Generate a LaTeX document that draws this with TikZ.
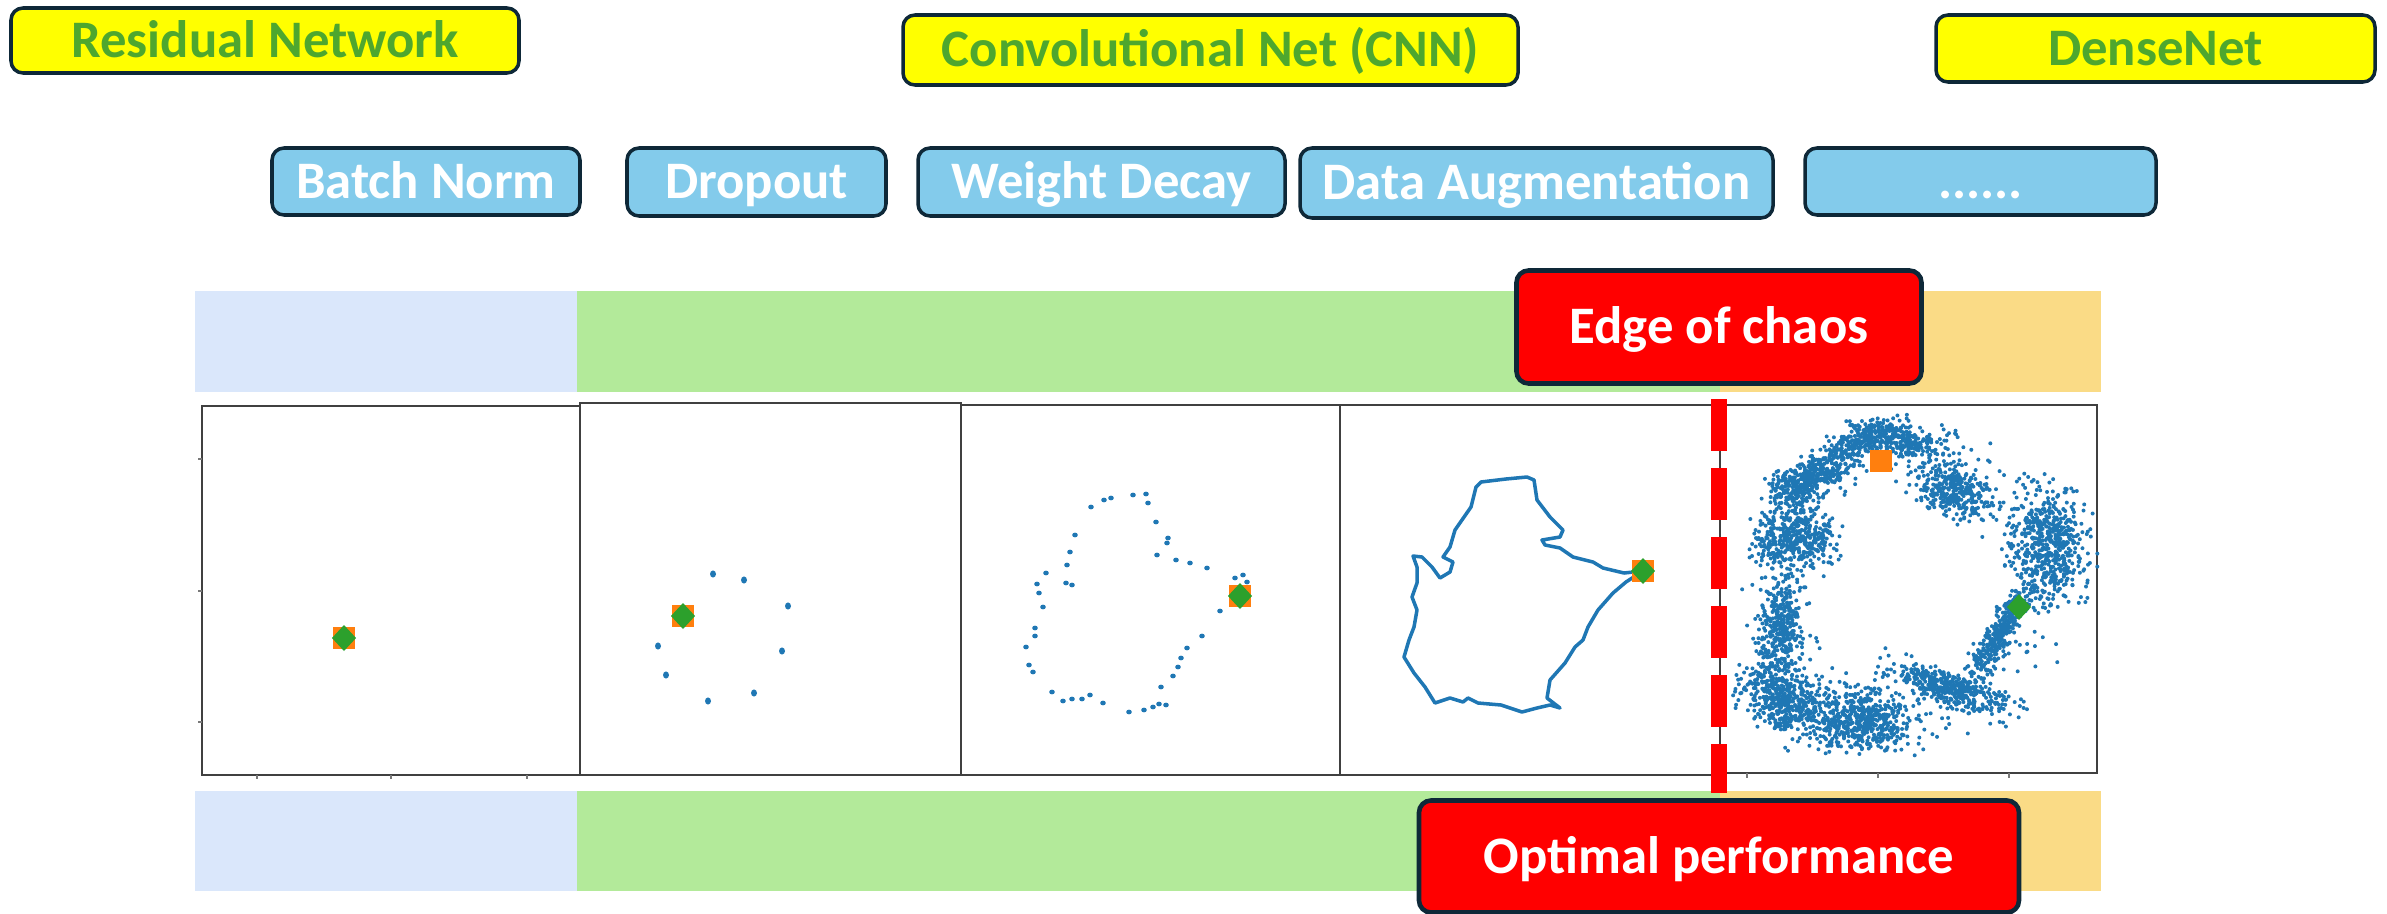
\documentclass[tikz,border=0pt]{standalone}
\usepackage{fontspec}
\setmainfont{Carlito}

\definecolor{archyellow}{RGB}{255,255,0}
\definecolor{archgreen}{RGB}{78,167,46}
\definecolor{regblue}{RGB}{131,203,235}
\definecolor{boxline}{RGB}{14,40,56}
\definecolor{bandblue}{RGB}{218,231,251}
\definecolor{bandgreen}{RGB}{179,234,154}
\definecolor{bandorange}{RGB}{250,219,134}
\definecolor{plotblue}{RGB}{31,119,180}
\definecolor{plotorange}{RGB}{255,127,14}
\definecolor{plotgreen}{RGB}{44,160,44}
\definecolor{framegray}{RGB}{64,64,64}

\tikzset{
  tag/.style = {draw = boxline, line width = 1pt, rounded corners = 1.2mm, inner sep = 0pt,
                text height = 9.6pt, text depth = 0pt,
                font = \fontsize{15}{18}\selectfont\bfseries},
  archtag/.style = {tag, fill = archyellow, text = archgreen},
  regtag/.style  = {tag, fill = regblue, text = white},
  cuttag/.style  = {tag, fill = red, text = white, line width = 1.3pt},
  panel/.style   = {draw = framegray, line width = 0.7pt},
  tick/.style    = {framegray!70, line width = 0.3pt},
  cutline/.style = {red, line width = 1.6mm, dash pattern = on 5.2mm off 1.7mm},
  dot/.style     = {fill = plotblue}
}

\begin{document}
\begin{tikzpicture}[x = 0.1mm, y = -0.1mm]
  \useasboundingbox (0, 0) rectangle (2387, 914);

  \node (resnet)   at ( 265,  40.5) [archtag, minimum width = 50.8mm, minimum height = 6.5mm] {Residual Network};
  \node (cnn)      at (1210.5, 50)  [archtag, minimum width = 61.5mm, minimum height = 7mm]   {Convolutional Net (CNN)};
  \node (densenet) at (2155.5, 48.5) [archtag, minimum width = 43.9mm, minimum height = 6.7mm] {DenseNet};

  \node (batchnorm) at ( 426,   181.5) [regtag, minimum width = 30.8mm, minimum height = 6.7mm] {Batch Norm};
  \node (dropout)   at ( 756.5, 182)   [regtag, minimum width = 25.9mm, minimum height = 6.8mm] {Dropout};
  \node (decay)     at (1101.5, 182)   [regtag, minimum width = 36.7mm, minimum height = 6.8mm] {Weight Decay};
  \node (augment)   at (1536.5, 183)   [regtag, minimum width = 47.3mm, minimum height = 7mm]   {Data Augmentation};
  \node (more)      at (1980.5, 181.5) [regtag, minimum width = 35.1mm, minimum height = 6.7mm] {......};

  \fill [bandblue]   ( 195, 291) rectangle ( 577, 392);
  \fill [bandgreen]  ( 577, 291) rectangle (1720, 392);
  \fill [bandorange] (1720, 291) rectangle (2101, 392);
  \fill [bandblue]   ( 195, 791) rectangle ( 577, 891);
  \fill [bandgreen]  ( 577, 791) rectangle (1720, 891);
  \fill [bandorange] (1720, 791) rectangle (2101, 891);

  \draw [panel] ( 202, 406) rectangle ( 580, 775);
  \draw [panel] ( 580, 403) rectangle ( 961, 775);
  \draw [panel] ( 961, 405) rectangle (1340, 775);
  \draw [panel] (1340, 405) rectangle (1720, 775);
  \draw [panel] (1720, 405) rectangle (2097, 773);
  \foreach \x in {257, 391, 527}
    \draw [tick] (\x, 775) -- (\x, 779);
  \foreach \y in {459, 591, 722}
    \draw [tick] (202, \y) -- (198, \y);
  \foreach \x in {1747, 1878, 2009}
    \draw [tick] (\x, 773) -- (\x, 778);

  \foreach \x/\y in {713/574, 744/580, 788/606, 782/651, 754/693, 708/701, 666/675, 658/646}
    \fill [dot] (\x, \y) ellipse [x radius = 3, y radius = 3.6];

  \foreach \x/\y in {1091/507, 1104/500, 1111/498, 1133/495, 1146/494, 1148/503, 1156/522,
                     1168/538, 1167/543, 1157/555, 1176/560, 1190/563, 1207/568, 1235/578,
                     1243/575, 1247/582, 1220/611, 1202/636, 1187/648, 1181/658, 1178/667,
                     1173/676, 1161/687, 1166/705, 1159/704, 1153/707, 1144/710, 1129/712,
                     1103/703, 1090/695, 1082/699, 1072/699, 1063/701, 1052/692, 1033/672,
                     1029/665, 1026/647, 1035/636, 1035/628, 1043/607, 1039/593, 1037/584,
                     1046/573, 1067/565, 1070/552, 1075/535, 1066/583, 1072/585}
    \fill [dot] (\x, \y) ellipse [x radius = 2.8, y radius = 2.4];

  \draw [plotblue, line width = 1pt, line join = round]
    (1643, 571) -- (1624, 573) -- (1603, 568) -- (1593, 562) -- (1573, 557) -- (1560, 548)
    -- (1545, 545) -- (1542, 540) -- (1560, 537) -- (1563, 530) -- (1550, 517) -- (1537, 500)
    -- (1534, 480) -- (1527, 477) -- (1506, 479) -- (1481, 482) -- (1476, 487) -- (1471, 507)
    -- (1455, 530) -- (1450, 547) -- (1443, 557) -- (1453, 562) -- (1450, 572) -- (1440, 578)
    -- (1432, 567) -- (1422, 557) -- (1413, 556) -- (1417, 567) -- (1417, 583) -- (1412, 597)
    -- (1417, 610) -- (1414, 627) -- (1409, 640) -- (1404, 657) -- (1414, 673) -- (1425, 687)
    -- (1435, 703) -- (1450, 698) -- (1463, 702) -- (1468, 698) -- (1478, 703) -- (1501, 705)
    -- (1522, 712) -- (1537, 708) -- (1550, 705) -- (1560, 708) -- (1547, 698) -- (1550, 680)
    -- (1565, 663) -- (1575, 647) -- (1583, 640) -- (1588, 627) -- (1598, 610) -- (1613, 593)
    -- (1626, 582) -- cycle;

  \pgfmathsetseed{7}
  \foreach \cx/\cy/\sa/\sb/\t/\n in {1820/470/35/14/-36/360, 1873/437/25/12/-12/240,
                                     1905/442/20/12/0/150, 1955/492/28/18/20/340,
                                     1927/452/25/20/0/50, 2047/545/28/42/0/560,
                                     1998/636/38/10/-60/330, 1950/688/45/12/18/400,
                                     1865/722/35/22/0/500, 1785/700/35/22/30/500,
                                     1780/627/35/15/90/360, 1793/537/30/22/0/420,
                                     1790/490/18/14/0/120}
  {
    \foreach \k in {1, ..., \n}
    {
      \pgfmathsetmacro\u{\sa*(rand+rand+rand)/1.5}
      \pgfmathsetmacro\v{\sb*(rand+rand+rand)/1.5}
      \fill [dot] ({\cx+\u*cos(\t)-\v*sin(\t)}, {\cy+\u*sin(\t)+\v*cos(\t)}) circle [radius = 2];
    }
  }
  \foreach \k in {1, ..., 250}
  {
    \pgfmathsetmacro\a{360*rnd}
    \pgfmathsetmacro\r{100+68*rnd}
    \fill [dot] ({1910+\r*cos(\a)}, {590+\r*sin(\a)}) circle [radius = 2];
  }

  \foreach \x/\y in {344/638, 683/616, 1240/596, 1643/571}
  {
    \fill [plotorange] (\x-11, \y-11) rectangle (\x+11, \y+11);
    \fill [plotgreen] (\x, \y-13) -- (\x+12, \y) -- (\x, \y+13) -- (\x-12, \y) -- cycle;
  }
  \fill [plotorange] (1870, 450) rectangle (1892, 472);
  \fill [plotgreen] (2019, 594) -- (2031, 607) -- (2019, 620) -- (2007, 607) -- cycle;

  \node (edge)    at (1719, 327)   [cuttag, minimum width = 40.5mm, minimum height = 11.3mm] {Edge of chaos};
  \node (optimal) at (1719, 856.5) [cuttag, minimum width = 60mm,   minimum height = 11.2mm] {Optimal performance};
  \draw [cutline, shorten <= 1.35mm, shorten >= 0.5mm] (edge.south) -- (optimal.north);
\end{tikzpicture}
\end{document}
